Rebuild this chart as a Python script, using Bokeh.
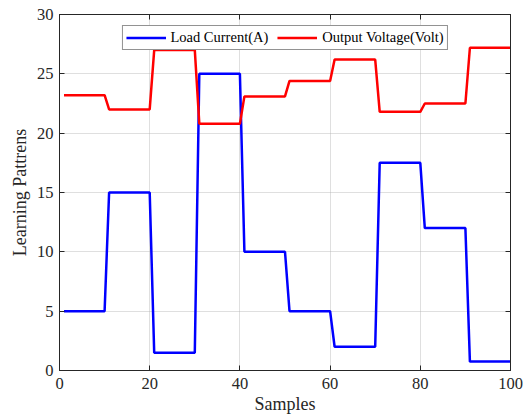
from bokeh.plotting import figure
from bokeh.models import LinearAxis, Legend, LegendItem, FixedTicker
from bokeh.embed import file_html
from bokeh.resources import INLINE

samples = list(range(1, 101))
current_levels = [5, 15, 1.5, 25, 10, 5, 2, 17.5, 12, 0.75]
voltage_levels = [23.2, 22.0, 27.0, 20.8, 23.1, 24.4, 26.2, 21.8, 22.5, 27.2]
load_current = [v for v in current_levels for _ in range(10)]
output_voltage = [v for v in voltage_levels for _ in range(10)]
x_ticks = [0, 20, 40, 60, 80, 100]
y_ticks = [0, 5, 10, 15, 20, 25, 30]

FONT = "Liberation Serif"
AX = "#262626"

p = figure(width=530, height=419, x_range=(0, 100), y_range=(0, 30),
           output_backend="svg", toolbar_location=None,
           min_border_left=59, min_border_right=20, min_border_top=14, min_border_bottom=49)
p.outline_line_color = AX
p.outline_line_width = 1

r1 = p.line(samples, load_current, line_color="#0000FF", line_width=2.5)
r2 = p.line(samples, output_voltage, line_color="#FF0000", line_width=2.5)

for ax, ticks in ((p.xaxis[0], x_ticks), (p.yaxis[0], y_ticks)):
    ax.ticker = FixedTicker(ticks=ticks)
    ax.major_tick_in = 5
    ax.major_tick_out = 0
    ax.minor_tick_line_color = None
    ax.axis_line_color = AX
    ax.major_tick_line_color = AX
    ax.major_label_text_font = FONT
    ax.major_label_text_font_size = "16.5px"
    ax.major_label_text_color = AX
    ax.axis_label_text_font = FONT
    ax.axis_label_text_font_size = "18px"
    ax.axis_label_text_font_style = "normal"
    ax.axis_label_text_color = AX

p.xaxis.axis_label = "Samples"
p.yaxis.axis_label = "Learning Pattrens"
p.xaxis.major_label_standoff = 7
p.xaxis.axis_label_standoff = 2
p.yaxis.major_label_standoff = 6
p.yaxis.axis_label_standoff = 4

top = LinearAxis(ticker=FixedTicker(ticks=x_ticks))
right = LinearAxis(ticker=FixedTicker(ticks=y_ticks))
for ax in (top, right):
    ax.major_tick_in = 5
    ax.major_tick_out = 0
    ax.minor_tick_line_color = None
    ax.axis_line_color = AX
    ax.major_tick_line_color = AX
    ax.major_label_text_font_size = "0px"
    ax.major_label_text_color = None
p.add_layout(top, "above")
p.add_layout(right, "right")

p.xgrid.ticker = FixedTicker(ticks=x_ticks)
p.ygrid.ticker = FixedTicker(ticks=y_ticks)
p.grid.grid_line_color = "#b0b0b0"
p.grid.grid_line_alpha = 0.4

legend = Legend(items=[LegendItem(label="Load Current(A)", renderers=[r1]),
                       LegendItem(label="Output Voltage(Volt)", renderers=[r2])],
                location="top_center", orientation="horizontal")
legend.label_text_font = FONT
legend.label_text_font_size = "14.5px"
legend.label_text_color = "#000000"
legend.glyph_width = 40
legend.glyph_height = 15
legend.label_height = 15
legend.label_standoff = 5
legend.spacing = 9
legend.padding = 3
legend.margin = 11
legend.border_line_color = AX
legend.border_line_width = 1
legend.background_fill_alpha = 1
p.add_layout(legend)

open("out.html", "w").write(file_html(p, INLINE))
